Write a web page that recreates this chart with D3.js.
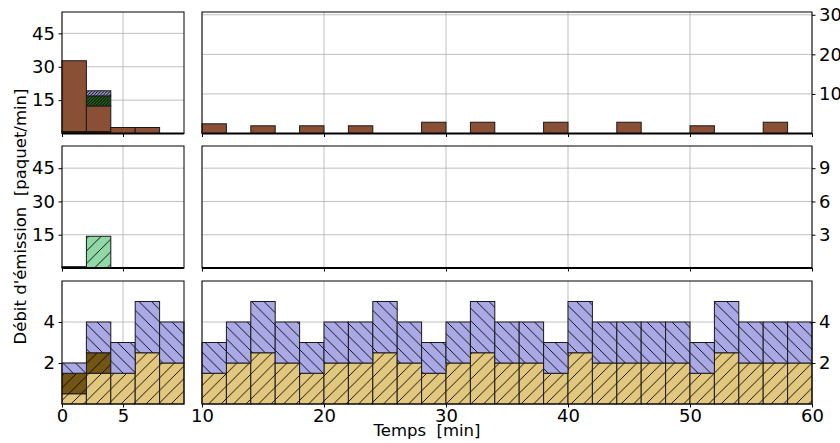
<!DOCTYPE html>
<html>
<head>
<meta charset="utf-8">
<script src="https://cdn.jsdelivr.net/npm/d3@7/dist/d3.min.js"></script>
<style>
body { margin: 0; background: #fff; }
text { font-family: "DejaVu Sans", sans-serif; }
</style>
</head>
<body>
<div id="chart"></div>
<script>
// classes (début de chaque intervalle de 2 min)
const binsLeft = [0, 2, 4, 6, 8]
const binsRight = [10, 12, 14, 16, 18, 20, 22, 24, 26, 28, 30, 32, 34, 36, 38, 40, 42, 44, 46, 48, 50, 52, 54, 56, 58]
const binWidth = 2

// ligne du haut
const topLeftDark = [0.9, 0.9, 0, 0, 0]
const topLeftBrown = [31.8, 11.5, 2.7, 2.7, 0]
const topLeftGreen = [0, 4.5, 0, 0, 0]
const topLeftLavender = [0, 2.3, 0, 0, 0]
const topRightBrown = [2.45, 0, 1.95, 0, 1.95, 0, 1.95, 0, 0, 2.85, 0, 2.85, 0, 0, 2.85, 0, 0, 2.85, 0, 0, 1.95, 0, 0, 2.85, 0]

// ligne du milieu
const midLeftDark = [0.6, 0, 0, 0, 0]
const midLeftGreen = [0, 14.3, 0, 0, 0]
const midRightGreen = [0, 0, 0, 0, 0, 0, 0, 0, 0, 0, 0, 0, 0, 0, 0, 0, 0, 0, 0, 0, 0, 0, 0, 0, 0]

// ligne du bas
const botLeftTan = [0.5, 1.5, 1.5, 2.5, 2]
const botLeftBrown = [1, 1, 0, 0, 0]
const botLeftLavender = [0.5, 1.5, 1.5, 2.5, 2]
const botRightTan = [1.5, 2, 2.5, 2, 1.5, 2, 2, 2.5, 2, 1.5, 2, 2.5, 2, 2, 1.5, 2.5, 2, 2, 2, 2, 1.5, 2.5, 2, 2, 2]
const botRightLavender = [1.5, 2, 2.5, 2, 1.5, 2, 2, 2.5, 2, 1.5, 2, 2.5, 2, 2, 1.5, 2.5, 2, 2, 2, 2, 1.5, 2.5, 2, 2, 2]

// graduations
const ticksTopLeft = [15, 30, 45]
const ticksTopRight = [10, 20, 30]
const ticksMidLeft = [15, 30, 45]
const ticksMidRight = [3, 6, 9]
const ticksBot = [2, 4]
const ticksXLeft = [0, 5]
const ticksXRight = [10, 20, 30, 40, 50, 60]

const width = 840
const height = 443

const svg = d3.select("#chart")
    .append("svg")
    .attr("width", width)
    .attr("height", height)

// motifs de hachures
const defs = svg.append("defs")
function hatch(id, color, dir, step) {
    const p = defs.append("pattern")
        .attr("id", id)
        .attr("patternUnits", "userSpaceOnUse")
        .attr("width", step)
        .attr("height", step)
    p.append("rect").attr("width", step).attr("height", step).attr("fill", color)
    const s = step, h = step / 2
    let d
    if (dir === "/") {
        d = `M0,${s}L${s},0M${-h},${h}L${h},${-h}M${h},${s + h}L${s + h},${h}`
    } else {
        d = `M0,0L${s},${s}M${-h},${h}L${h},${s + h}M${h},${-h}L${s + h},${h}`
    }
    p.append("path").attr("d", d).attr("stroke", "#000").attr("stroke-width", 0.9).attr("fill", "none")
}
hatch("h-tan", "#e2c77f", "/", 12.5)
hatch("h-lav", "#aaa9e6", "\\", 12.5)
hatch("h-dkbrown", "#735614", "/", 12.5)
hatch("h-lgreen", "#90d8a6", "/", 12.5)
hatch("h-dgreen", "#2a6a1e", "/", 3.1)
hatch("h-lav2", "#aaa9e6", "/", 3.1)

const cols = {
    left: { x0: 62, x1: 184, domain: [0, 10], bins: binsLeft, ticks: ticksXLeft },
    right: { x0: 202, x1: 812, domain: [10, 60], bins: binsRight, ticks: ticksXRight }
}
const rows = {
    top: { y0: 12, y1: 133.5 },
    mid: { y0: 146, y1: 268 },
    bot: { y0: 281, y1: 404 }
}

function panel(col, row, ymax, yticks, series, showX) {
    const c = cols[col], r = rows[row]
    const x = d3.scaleLinear().domain(c.domain).range([c.x0, c.x1])
    const y = d3.scaleLinear().domain([0, ymax]).range([r.y1, r.y0])
    const g = svg.append("g")

    // grille
    g.selectAll(".vgrid").data(c.ticks).enter().append("line")
        .attr("x1", d => x(d)).attr("x2", d => x(d))
        .attr("y1", r.y0).attr("y2", r.y1)
        .attr("stroke", "#b0b0b0").attr("stroke-width", 0.8)
    g.selectAll(".hgrid").data(yticks).enter().append("line")
        .attr("x1", c.x0).attr("x2", c.x1)
        .attr("y1", d => y(d)).attr("y2", d => y(d))
        .attr("stroke", "#b0b0b0").attr("stroke-width", 0.8)

    // barres empilées
    const keys = series.map(s => s.key)
    const table = c.bins.map((b, i) => {
        const row = { bin: b }
        series.forEach(s => { row[s.key] = s.values[i] })
        return row
    })
    const stacked = d3.stack().keys(keys)(table)
    stacked.forEach((layer, k) => {
        g.append("g").selectAll("rect")
            .data(layer.filter(d => d[1] - d[0] > 0))
            .enter().append("rect")
            .attr("x", d => x(d.data.bin))
            .attr("width", d => x(d.data.bin + binWidth) - x(d.data.bin))
            .attr("y", d => y(d[1]))
            .attr("height", d => y(d[0]) - y(d[1]))
            .attr("fill", series[k].fill)
            .attr("stroke", "#1a1a1a")
            .attr("stroke-width", 1)
    })

    // cadre
    g.append("rect")
        .attr("x", c.x0).attr("y", r.y0)
        .attr("width", c.x1 - c.x0).attr("height", r.y1 - r.y0)
        .attr("fill", "none").attr("stroke", "#000").attr("stroke-width", 1)
    if (!showX) {
        g.append("line")
            .attr("x1", c.x0).attr("x2", c.x1)
            .attr("y1", r.y1).attr("y2", r.y1)
            .attr("stroke", "#000").attr("stroke-width", 2)
    }

    // axes
    const xAxis = d3.axisBottom(x).tickValues(c.ticks).tickSize(3.5).tickPadding(2)
        .tickFormat(showX ? d3.format("d") : "")
    const ax = g.append("g").attr("transform", `translate(0,${r.y1})`).call(xAxis)
    const yAxis = (col === "left" ? d3.axisLeft(y) : d3.axisRight(y))
        .tickValues(yticks).tickSize(3.5).tickPadding(3.5).tickFormat(d3.format("d"))
    const ay = g.append("g")
        .attr("transform", `translate(${col === "left" ? c.x0 : c.x1},0)`)
        .call(yAxis)
    ;[ax, ay].forEach(a => {
        a.select(".domain").remove()
        a.selectAll("line").attr("stroke", "#000")
        a.selectAll("text").attr("font-size", 18).attr("fill", "#000")
            .attr("font-family", "DejaVu Sans, sans-serif")
    })
}

panel("left", "top", 54.6, ticksTopLeft, [
    { key: "dark", values: topLeftDark, fill: "#2b1d14" },
    { key: "brown", values: topLeftBrown, fill: "#8a5035" },
    { key: "green", values: topLeftGreen, fill: "url(#h-dgreen)" },
    { key: "lav", values: topLeftLavender, fill: "url(#h-lav2)" }
], false)
panel("right", "top", 30.7, ticksTopRight, [
    { key: "brown", values: topRightBrown, fill: "#8a5035" }
], false)
panel("left", "mid", 55, ticksMidLeft, [
    { key: "dark", values: midLeftDark, fill: "#1f3b22" },
    { key: "green", values: midLeftGreen, fill: "url(#h-lgreen)" }
], false)
panel("right", "mid", 11, ticksMidRight, [
    { key: "green", values: midRightGreen, fill: "url(#h-lgreen)" }
], false)
panel("left", "bot", 6, ticksBot, [
    { key: "tan", values: botLeftTan, fill: "url(#h-tan)" },
    { key: "dkbrown", values: botLeftBrown, fill: "url(#h-dkbrown)" },
    { key: "lav", values: botLeftLavender, fill: "url(#h-lav)" }
], true)
panel("right", "bot", 6, ticksBot, [
    { key: "tan", values: botRightTan, fill: "url(#h-tan)" },
    { key: "lav", values: botRightLavender, fill: "url(#h-lav)" }
], true)

// titres des axes
svg.append("text")
    .attr("x", 427).attr("y", 436)
    .attr("text-anchor", "middle")
    .attr("font-size", 16.5)
    .style("white-space", "pre")
    .text("Temps  [min]")

svg.append("text")
    .attr("transform", "translate(26,216.5) rotate(-90)")
    .attr("text-anchor", "middle")
    .attr("font-size", 16.5)
    .style("white-space", "pre")
    .text("Débit d'émission  [paquet/min]")
</script>
</body>
</html>
